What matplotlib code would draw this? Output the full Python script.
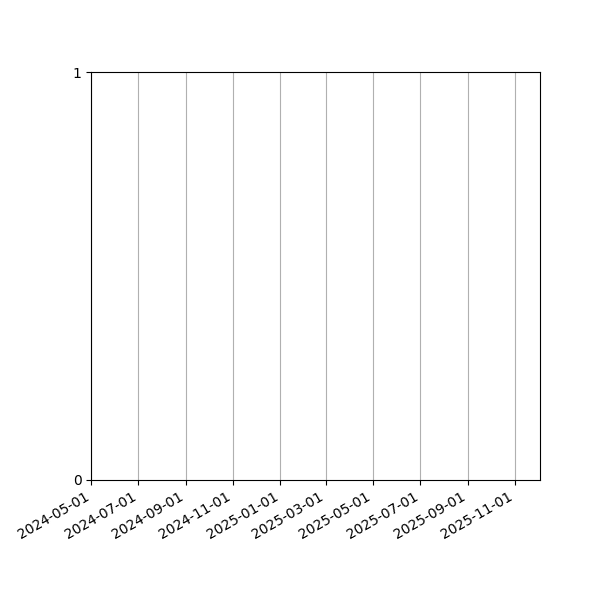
import matplotlib
matplotlib.use("Agg")
import matplotlib.pyplot as plt
import matplotlib.dates as mdates
import numpy as np

# Empty series: the chart shows only a date axis
dates = np.array([], dtype="datetime64[D]")
values = np.array([], dtype=float)

x_range = [np.datetime64("2024-05-01"), np.datetime64("2025-12-03")]
y_ticks = [0, 1]

fig, ax = plt.subplots(figsize=(6, 6), dpi=100)
ax.plot(dates, values)

ax.set_xlim(x_range[0], x_range[1])
ax.set_ylim(0, 1)
ax.set_yticks(y_ticks)

ax.xaxis.set_major_locator(mdates.MonthLocator(bymonth=[1, 3, 5, 7, 9, 11]))
ax.xaxis.set_major_formatter(mdates.DateFormatter("%Y-%m-%d"))
ax.grid(axis="x", color="#b0b0b0", linewidth=0.8)

fig.autofmt_xdate()
fig.subplots_adjust(left=0.152, right=0.9, top=0.88, bottom=0.2)
fig.savefig("out.png", dpi=100)
